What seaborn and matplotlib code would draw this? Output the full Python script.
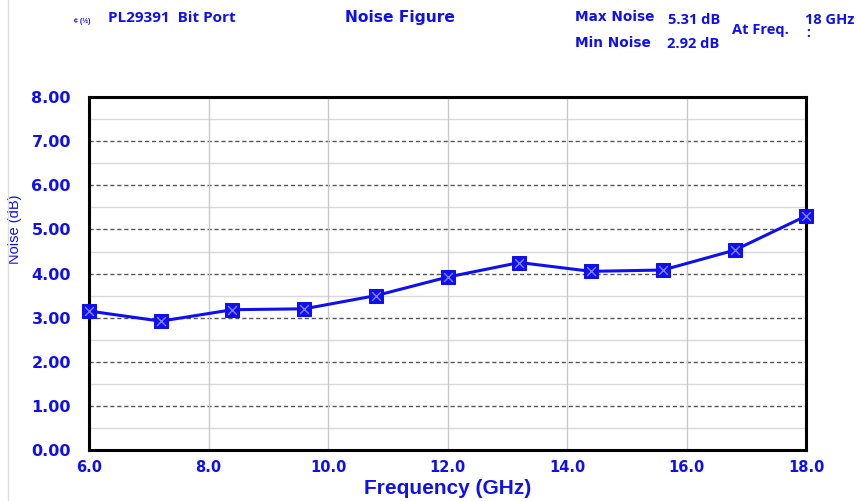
import matplotlib
matplotlib.use('Agg')
import matplotlib.pyplot as plt
import seaborn as sns
import pandas as pd
import numpy as np

# data
freq_ghz = [6.0, 7.2, 8.4, 9.6, 10.8, 12.0, 13.2, 14.4, 15.6, 16.8, 18.0]
noise_db = [3.15, 2.92, 3.18, 3.20, 3.50, 3.92, 4.25, 4.05, 4.08, 4.53, 5.31]
x_ticks = [6.0, 8.0, 10.0, 12.0, 14.0, 16.0, 18.0]
y_ticks = [0, 1, 2, 3, 4, 5, 6, 7, 8]

df = pd.DataFrame({'freq': freq_ghz, 'noise': noise_db})

sns.set_style('white')
plt.rcParams['font.family'] = ['Liberation Sans', 'DejaVu Sans']
blue = '#1010ee'

fig = plt.figure(figsize=(8.56, 5.01), dpi=100)
ax = fig.add_axes([0.104, 0.102, 0.838, 0.704])

# grid: minor light, major dashed
for v in np.arange(0.5, 8, 1.0):
    ax.axhline(v, color='#d8d8d8', lw=1, zorder=0)
for v in y_ticks[1:-1]:
    ax.axhline(v, color='#555555', lw=1, ls=(0, (3, 2)), zorder=0)
for v in x_ticks[1:-1]:
    ax.axvline(v, color='#c8c8c8', lw=1, zorder=0)

sns.lineplot(data=df, x='freq', y='noise', color=blue, lw=2.2, marker='s',
             markersize=10, markeredgecolor=blue, markerfacecolor=blue, ax=ax,
             zorder=3, clip_on=False)
ax.scatter(df.freq, df.noise, marker='x', s=40, color='#8080ff', lw=1, zorder=4, clip_on=False)

ax.set_xlim(6, 18)
ax.set_ylim(0, 8)
ax.set_xticks(x_ticks)
ax.set_yticks(y_ticks)
ax.set_xticklabels([f'{t:.1f}' for t in x_ticks], color=blue, fontsize=10.5,
                   fontweight='bold', family='DejaVu Sans')
ax.set_yticklabels([f'{t:.2f}' for t in y_ticks], color=blue, fontsize=11.5,
                   fontweight='bold', family='DejaVu Sans')
ax.tick_params(axis='x', length=3, color='#888888', pad=4)
ax.tick_params(axis='y', length=4, color='#888888', pad=9)

ax.set_xlabel('Frequency (GHz)', color=blue, fontsize=15, fontweight='bold', labelpad=3)
ax.set_ylabel('Noise (dB)', color=blue, fontsize=10.5)
ax.yaxis.set_label_coords(-0.093, 0.626)

for s in ax.spines.values():
    s.set_color('black')
    s.set_linewidth(2.2)
    s.set_visible(True)

# header texts
fig.text(0.087, 0.958, '\u00a2 (\u00bd)', color=blue, fontsize=5, fontweight='bold', va='center')
fig.text(0.126, 0.964, 'PL29391  Bit Port', color=blue, fontsize=11, fontweight='bold',
         family='Open Sans', va='center')
fig.text(0.403, 0.966, 'Noise Figure', color=blue, fontsize=11.2, fontweight='bold',
         family='DejaVu Sans', va='center')
fig.text(0.672, 0.966, 'Max Noise', color=blue, fontsize=9.8, fontweight='bold',
         family='DejaVu Sans', va='center')
fig.text(0.672, 0.914, 'Min Noise', color=blue, fontsize=9.8, fontweight='bold',
         family='DejaVu Sans', va='center')
fig.text(0.780, 0.960, '5.31 dB', color=blue, fontsize=10.5, fontweight='bold',
         family='Open Sans', va='center')
fig.text(0.779, 0.912, '2.92 dB', color=blue, fontsize=10.5, fontweight='bold',
         family='Open Sans', va='center')
fig.text(0.855, 0.940, 'At Freq.', color=blue, fontsize=10.5, fontweight='bold',
         family='Open Sans', va='center')
fig.text(0.942, 0.934, ':', color=blue, fontsize=10, fontweight='bold',
         family='Open Sans', va='center')
fig.text(0.940, 0.960, '18 GHz', color=blue, fontsize=10.5, fontweight='bold',
         family='Open Sans', va='center')

# faint page border at left
fig.add_artist(plt.Line2D([0.009, 0.009], [0.0, 1.0], color='#dddddd', lw=1, transform=fig.transFigure))

fig.savefig('out.png', dpi=100)
